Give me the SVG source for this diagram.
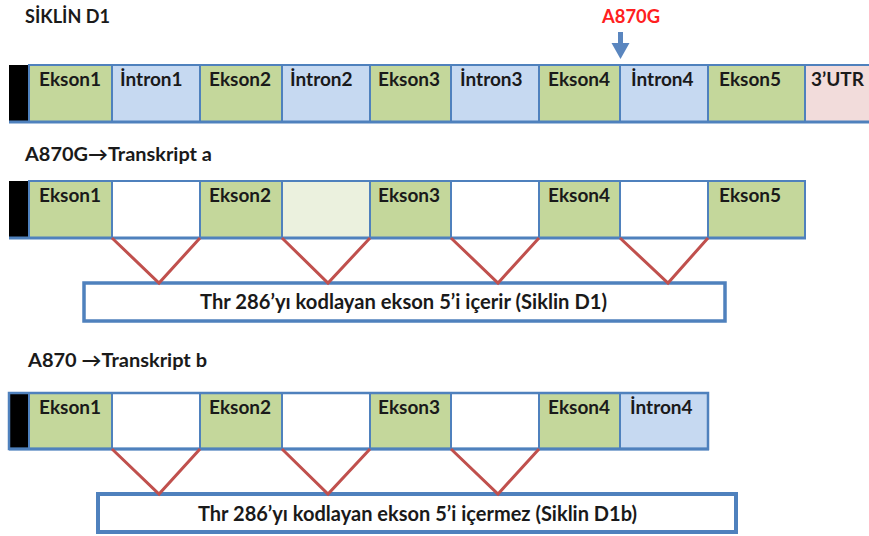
<svg xmlns="http://www.w3.org/2000/svg" width="869" height="536" viewBox="0 0 869 536">
<style>
text{font-family:Lato,"Liberation Sans",Arial,sans-serif;font-weight:bold;fill:#1a1a1a}
.lbl{font-size:19px}
.head{font-size:18.5px}
.ex{fill:#c4d79b;stroke:#4f81bd;stroke-width:2}
.in{fill:#c6d9f1;stroke:#4f81bd;stroke-width:2}
.utr{fill:#f2dcdb;stroke:#4f81bd;stroke-width:2}
.wh{fill:#ffffff;stroke:#4f81bd;stroke-width:2}
.lg{fill:#ebf1de;stroke:#4f81bd;stroke-width:2}
.blk{fill:#000000}
.base{stroke:#4f81bd;stroke-width:3;fill:none}
.v{stroke:#c0504d;stroke-width:3;fill:none;stroke-linejoin:miter}
.box{fill:#ffffff;stroke:#4f81bd;stroke-width:3.5}
.boxt{font-size:20px}
</style>

<text x="25" y="23" class="head" textLength="85" lengthAdjust="spacingAndGlyphs">SİKLİN D1</text>
<text x="602" y="23" class="head" style="fill:#ff2020" textLength="58" lengthAdjust="spacingAndGlyphs">A870G</text>
<g id="mutation-arrow">
<line x1="620.5" y1="32" x2="620.5" y2="48" stroke="#5a86bf" stroke-width="5"/>
<polygon points="611.5,43 629.5,43 620.5,59" fill="#5a86bf"/>
</g>

<!-- Row 1 -->
<g id="r1">
<g id="r1-cap"><rect class="blk" x="9" y="65" width="20" height="57"/></g>
<g id="r1-e1"><rect class="ex" x="29" y="65" width="83" height="57"/><text class="lbl" x="39" y="86">Ekson1</text></g>
<g id="r1-i1"><rect class="in" x="112" y="65" width="88" height="57"/><text class="lbl" x="120" y="86">İntron1</text></g>
<g id="r1-e2"><rect class="ex" x="200" y="65" width="82" height="57"/><text class="lbl" x="209" y="86">Ekson2</text></g>
<g id="r1-i2"><rect class="in" x="282" y="65" width="88" height="57"/><text class="lbl" x="290" y="86">İntron2</text></g>
<g id="r1-e3"><rect class="ex" x="370" y="65" width="81" height="57"/><text class="lbl" x="378" y="86">Ekson3</text></g>
<g id="r1-i3"><rect class="in" x="451" y="65" width="88" height="57"/><text class="lbl" x="460" y="86">İntron3</text></g>
<g id="r1-e4"><rect class="ex" x="539" y="65" width="81" height="57"/><text class="lbl" x="548" y="86">Ekson4</text></g>
<g id="r1-i4"><rect class="in" x="620" y="65" width="88" height="57"/><text class="lbl" x="631" y="86">İntron4</text></g>
<g id="r1-e5"><rect class="ex" x="708" y="65" width="97" height="57"/><text class="lbl" x="719" y="86">Ekson5</text></g>
<g id="r1-utr"><rect class="utr" x="805" y="65" width="70" height="57"/><text class="lbl" x="811" y="86">3’UTR</text></g>
<line class="base" x1="9" y1="122" x2="869" y2="122"/>
</g>

<!-- Row 2 -->
<text x="25" y="161" class="head" textLength="187" lengthAdjust="spacingAndGlyphs">A870G→Transkript a</text>
<g id="r2">
<g id="r2-cap"><rect class="blk" x="9" y="181" width="20" height="57"/></g>
<g id="r2-e1"><rect class="ex" x="29" y="181" width="83" height="57"/><text class="lbl" x="39" y="202">Ekson1</text></g>
<g id="r2-i1"><rect class="wh" x="112" y="181" width="88" height="57"/></g>
<g id="r2-e2"><rect class="ex" x="200" y="181" width="82" height="57"/><text class="lbl" x="209" y="202">Ekson2</text></g>
<g id="r2-i2"><rect class="lg" x="282" y="181" width="88" height="57"/></g>
<g id="r2-e3"><rect class="ex" x="370" y="181" width="81" height="57"/><text class="lbl" x="378" y="202">Ekson3</text></g>
<g id="r2-i3"><rect class="wh" x="451" y="181" width="88" height="57"/></g>
<g id="r2-e4"><rect class="ex" x="539" y="181" width="81" height="57"/><text class="lbl" x="548" y="202">Ekson4</text></g>
<g id="r2-i4"><rect class="wh" x="620" y="181" width="88" height="57"/></g>
<g id="r2-e5"><rect class="ex" x="708" y="181" width="97" height="57"/><text class="lbl" x="719" y="202">Ekson5</text></g>
<line class="base" x1="9" y1="238" x2="806" y2="238"/>
</g>
<g id="box-a"><rect class="box" x="84" y="283" width="641" height="38"/><text class="boxt" x="200" y="309" textLength="407" lengthAdjust="spacingAndGlyphs">Thr 286’yı kodlayan ekson 5’i içerir (Siklin D1)</text></g>

<!-- Row 3 -->
<text x="28" y="367" class="head" textLength="179" lengthAdjust="spacingAndGlyphs">A870 →Transkript b</text>
<g id="r3">
<g id="r3-cap"><rect class="blk" x="9" y="393" width="20" height="56"/></g>
<g id="r3-e1"><rect class="ex" x="29" y="393" width="83" height="56"/><text class="lbl" x="39" y="414">Ekson1</text></g>
<g id="r3-i1"><rect class="wh" x="112" y="393" width="88" height="56"/></g>
<g id="r3-e2"><rect class="ex" x="200" y="393" width="82" height="56"/><text class="lbl" x="209" y="414">Ekson2</text></g>
<g id="r3-i2"><rect class="wh" x="282" y="393" width="88" height="56"/></g>
<g id="r3-e3"><rect class="ex" x="370" y="393" width="81" height="56"/><text class="lbl" x="378" y="414">Ekson3</text></g>
<g id="r3-i3"><rect class="wh" x="451" y="393" width="88" height="56"/></g>
<g id="r3-e4"><rect class="ex" x="539" y="393" width="81" height="56"/><text class="lbl" x="548" y="414">Ekson4</text></g>
<g id="r3-i4"><rect class="in" x="620" y="393" width="88" height="56"/><text class="lbl" x="630" y="414">İntron4</text></g>
<rect x="9" y="393" width="699" height="56" fill="none" stroke="#4f81bd" stroke-width="2.5"/>
<line class="base" x1="9" y1="449" x2="709" y2="449"/>
</g>
<g id="box-b"><rect class="box" x="98" y="494" width="638" height="38" style="stroke-width:4"/><text class="boxt" x="198" y="521" textLength="439" lengthAdjust="spacingAndGlyphs">Thr 286’yı kodlayan ekson 5’i içermez (Siklin D1b)</text></g>

<!-- Connectors -->
<g id="connectors">
<polyline class="v" points="112,238 159,283 200,238"/>
<polyline class="v" points="282,238 328,283 370,238"/>
<polyline class="v" points="451,238 498,283 539,238"/>
<polyline class="v" points="620,238 668,283 708,238"/>
<polyline class="v" points="112,449 159,494 200,449"/>
<polyline class="v" points="282,449 328,494 370,449"/>
<polyline class="v" points="451,449 498,494 539,449"/>
</g>
</svg>
